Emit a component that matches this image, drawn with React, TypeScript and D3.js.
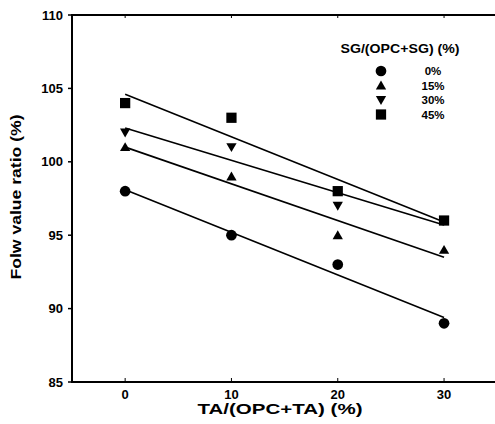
import React from "react";
import * as d3 from "d3";

const xValues = [0, 10, 20, 30];
const series0 = [98, 95, 93, 89];
const series15 = [101, 99, 95, 94];
const series30 = [102, 101, 97, 96];
const series45 = [104, 103, 98, 96];
const seriesLabels = ["0%", "15%", "30%", "45%"];
const seriesSymbols = [d3.symbolCircle, d3.symbolTriangle, d3.symbolTriangle, d3.symbolSquare];
const xTicks = [0, 10, 20, 30];
const yTicks = [85, 90, 95, 100, 105, 110];

const allSeries = [series0, series15, series30, series45];

function fit(ys: number[]) {
  const mx = d3.mean(xValues) as number;
  const my = d3.mean(ys) as number;
  let num = 0, den = 0;
  xValues.forEach((x, i) => { num += (x - mx) * (ys[i] - my); den += (x - mx) ** 2; });
  const slope = num / den;
  return { slope, intercept: my - slope * mx };
}

export default function App() {
  const W = 495, H = 424;
  const left = 72, top = 15, bottom = 382;
  const x = d3.scaleLinear().domain([-5, 35]).range([left, left + 4 * 106.3]);
  const y = d3.scaleLinear().domain([85, 110]).range([bottom, top]);
  const font = "'Liberation Sans', Arial, sans-serif";

  const symSize = (i: number) => (i === 3 ? 105 : i === 0 ? 90 : 46);
  const symPath = (i: number) => d3.symbol().type(seriesSymbols[i]).size(symSize(i))() as string;
  const rot = (i: number) => (i === 2 ? 180 : 0);
  const dyOff = (i: number) => (i === 1 ? 1 : i === 2 ? -1 : 0);

  return (
    <svg width={W} height={H} style={{ position: "absolute", left: 0, top: 0, background: "#fff" }}>
      {/* frame */}
      <line x1={left} y1={top} x2={W} y2={top} stroke="#000" strokeWidth={2} />
      <line x1={left} y1={bottom} x2={W} y2={bottom} stroke="#000" strokeWidth={2} />
      <line x1={left} y1={top - 1} x2={left} y2={bottom + 1} stroke="#000" strokeWidth={2} />
      {/* y ticks */}
      {yTicks.map((t) => (
        <g key={t}>
          <line x1={left - 4} x2={left} y1={y(t)} y2={y(t)} stroke="#000" strokeWidth={1.5} />
          <text x={63} y={y(t)} dy="0.35em" textAnchor="end" fontFamily={font} fontWeight="bold" fontSize={13}>{t}</text>
        </g>
      ))}
      {/* x ticks */}
      {xTicks.map((t) => (
        <g key={t}>
          <line x1={x(t)} x2={x(t)} y1={bottom} y2={bottom - 4} stroke="#000" strokeWidth={1} />
          <line x1={x(t)} x2={x(t)} y1={top} y2={top + 3} stroke="#000" strokeWidth={1} />
          <text x={x(t)} y={399} textAnchor="middle" fontFamily={font} fontWeight="bold" fontSize={13}>{t}</text>
        </g>
      ))}
      {/* fit lines */}
      {allSeries.map((s, i) => {
        const f = fit(s);
        const pts: [number, number][] = [0, 30].map((xv) => [x(xv), y(f.intercept + f.slope * xv)]);
        return <path key={i} d={d3.line()(pts) as string} stroke="#000" strokeWidth={1.6} fill="none" />;
      })}
      {/* markers */}
      {allSeries.map((s, i) =>
        s.map((v, j) => (
          <path key={`${i}-${j}`} d={symPath(i)} transform={`translate(${x(xValues[j])},${y(v) + dyOff(i)}) rotate(${rot(i)})`} fill="#000" />
        ))
      )}
      {/* legend */}
      <text x={400} y={53} textAnchor="middle" fontFamily={font} fontWeight="bold" fontSize={12.5} textLength={119} lengthAdjust="spacingAndGlyphs">SG/(OPC+SG) (%)</text>
      {seriesLabels.map((l, i) => (
        <g key={l}>
          <path d={symPath(i)} transform={`translate(381,${71 + i * 14.5 + dyOff(i)}) rotate(${rot(i)})`} fill="#000" />
          <text x={433} y={71 + i * 14.5} dy="0.35em" textAnchor="middle" fontFamily={font} fontWeight="bold" fontSize={11.5}>{l}</text>
        </g>
      ))}
      {/* axis titles */}
      <text x={280} y={414} textAnchor="middle" fontFamily={font} fontWeight="bold" fontSize={14.5} textLength={165} lengthAdjust="spacingAndGlyphs">TA/(OPC+TA)  (%)</text>
      <text transform="translate(21,197) rotate(-90)" textAnchor="middle" fontFamily={font} fontWeight="bold" fontSize={14.5} textLength={165} lengthAdjust="spacingAndGlyphs">Folw value ratio (%)</text>
    </svg>
  );
}
